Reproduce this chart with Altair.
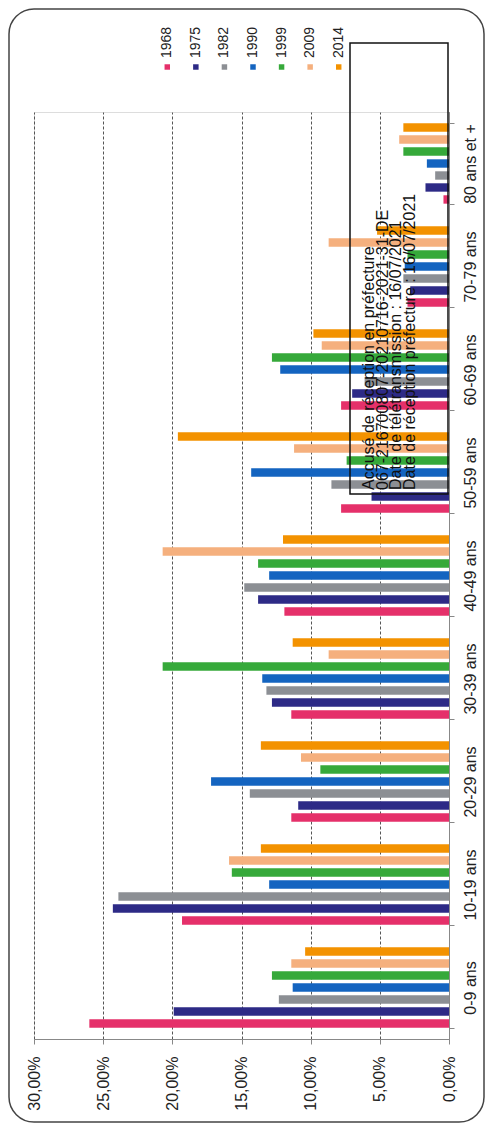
import altair as alt
import pandas as pd

ages = ["0-9 ans", "10-19 ans", "20-29 ans", "30-39 ans", "40-49 ans",
        "50-59 ans", "60-69 ans", "70-79 ans", "80 ans et +"]
years = ["1968", "1975", "1982", "1990", "1999", "2009", "2014"]
colors = ["#E5306A", "#2D2A86", "#8C8F94", "#1464C0", "#36A93A", "#F5B07E", "#F39200"]

v1968 = [26.0, 19.3, 11.4, 11.4, 11.9, 7.8, 7.8, 3.0, 0.4]
v1975 = [19.9, 24.3, 10.9, 12.8, 13.8, 5.6, 7.0, 2.8, 1.7]
v1982 = [12.3, 23.9, 14.4, 13.2, 14.8, 8.5, 6.1, 3.3, 1.0]
v1990 = [11.3, 13.0, 17.2, 13.5, 13.0, 14.3, 12.2, 3.2, 1.6]
v1999 = [12.8, 15.7, 9.3, 20.7, 13.8, 7.4, 12.8, 3.0, 3.3]
v2009 = [11.4, 15.9, 10.7, 8.7, 20.7, 11.2, 9.2, 8.7, 3.6]
v2014 = [10.4, 13.6, 13.6, 11.3, 12.0, 19.6, 9.8, 5.2, 3.3]
series = [v1968, v1975, v1982, v1990, v1999, v2009, v2014]

tick_values = [0, 5, 10, 15, 20, 25, 30]

stamp_lines = [
    "Accusé de réception en préfecture",
    "067-216700807-20210716-2021-31-DE",
    "Date de télétransmission : 16/07/2021",
    "Date de réception préfecture : 16/07/2021",
]

FONT = "Liberation Sans"

rows = []
for y, vals in zip(years, series):
    for a, v in zip(ages, vals):
        rows.append({"age": a, "year": y, "value": v})
df = pd.DataFrame(rows)
one = pd.DataFrame({"k": [0]})
leg = pd.DataFrame({"year": years})

color_enc = alt.Color("year:N", scale=alt.Scale(domain=years, range=colors), legend=None)

frame = alt.Chart(one).mark_rect(
    cornerRadius=25, filled=False, stroke="#444", strokeWidth=1.5
).encode(
    x=alt.value(-25), x2=alt.value(450), y=alt.value(-103), y2=alt.value(1010)
)

bars = alt.Chart(df).mark_bar().encode(
    x=alt.X("value:Q",
            scale=alt.Scale(domain=[0, 30], reverse=True, nice=False),
            axis=alt.Axis(values=tick_values, title=None,
                          labelExpr="replace(format(datum.value, '.2f'), '.', ',') + '%'",
                          labelAngle=270, labelFontSize=16, labelFont=FONT,
                          labelColor="#222", labelPadding=12,
                          grid=True, gridDash=[3, 2], gridColor="#555",
                          tickSize=5, tickColor="#888", domainColor="#888")),
    y=alt.Y("age:N", sort=list(reversed(ages)),
            scale=alt.Scale(paddingInner=0.22, paddingOuter=0.11),
            axis=alt.Axis(orient="right", title=None, labelAngle=270,
                          labelAlign="center", labelBaseline="top",
                          labelFontSize=16, labelFont=FONT, labelColor="#222",
                          tickBand="extent", tickSize=5, labelPadding=8,
                          tickColor="#888", domainColor="#888", grid=False)),
    yOffset=alt.YOffset("year:N", sort=list(reversed(years)),
                        scale=alt.Scale(paddingInner=0.3)),
    color=color_enc,
)

legend_x = alt.X("year:N", scale=alt.Scale(domain=years, range=[119, 319]), axis=None)
leg_sq = alt.Chart(leg).mark_square(size=30, opacity=1).encode(
    x=legend_x, y=alt.value(-45), color=color_enc
)
leg_tx = alt.Chart(leg).mark_text(
    angle=270, align="left", baseline="middle", fontSize=14, font=FONT, color="#222"
).encode(x=legend_x, y=alt.value(-54), text="year:N")

stamp_box = alt.Chart(one).mark_rect(
    filled=False, stroke="#111", strokeWidth=1.5
).encode(x=alt.value(316), x2=alt.value(414), y=alt.value(-69), y2=alt.value(382))

stamp_text = alt.Chart(one).mark_text(
    text=stamp_lines, angle=270, align="left", baseline="top",
    fontSize=16, lineHeight=13.5, font=FONT, color="#111"
).encode(x=alt.value(327), y=alt.value(378))

chart = alt.layer(frame, bars, leg_sq, leg_tx, stamp_box, stamp_text).resolve_scale(
    x="independent"
).properties(
    width=415, height=927,
    autosize=alt.AutoSizeParams(type="none"),
    padding={"left": 26, "top": 104, "right": 36, "bottom": 86},
).configure_view(stroke=None).configure(background="white")

chart.save("out.html", embed_options={"renderer": "svg", "actions": False})
